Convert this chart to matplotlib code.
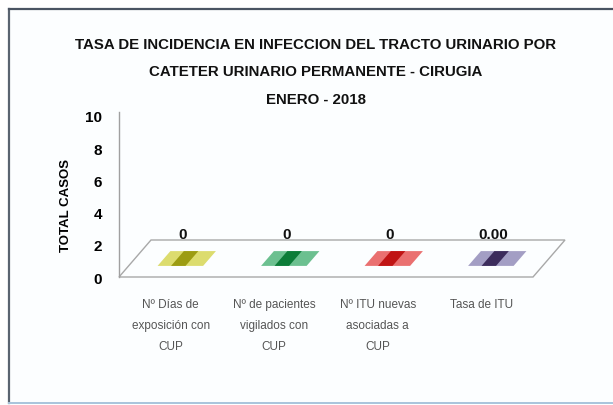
import matplotlib
matplotlib.use("Agg")
import matplotlib.pyplot as plt
from matplotlib.patches import Polygon, Rectangle
from matplotlib.lines import Line2D
from matplotlib.transforms import IdentityTransform

plt.rcParams["font.family"] = ["Liberation Sans", "DejaVu Sans"]

# ----------------------------------------------------------------------
# data
# ----------------------------------------------------------------------
title_lines = [
    "TASA DE INCIDENCIA EN INFECCION DEL TRACTO URINARIO POR",
    "CATETER URINARIO PERMANENTE - CIRUGIA",
    "ENERO - 2018",
]
categories = [
    "Nº Días de\nexposición con\nCUP",
    "Nº de pacientes\nvigilados con\nCUP",
    "Nº ITU nuevas\nasociadas a\nCUP",
    "Tasa de ITU",
]
values = [0, 0, 0, 0.0]
value_labels = ["0", "0", "0", "0.00"]
bar_light = ["#dcdc6e", "#6cc090", "#ea7070", "#a39ec4"]
bar_dark = ["#9c9c12", "#0c7c38", "#c01414", "#3c2c5c"]
yticks = [0, 2, 4, 6, 8, 10]

W, H = 613, 406
DX, DY = 32, 37  # depth of the pseudo-3d floor, pixels


def fx(px):
    return px / W


def fy(py):
    return 1 - py / H


fig = plt.figure(figsize=(W / 100, H / 100), dpi=100)
fig.patch.set_facecolor("white")

# chart frame
fig.add_artist(Rectangle((fx(9), fy(404)), 1 - fx(9), fy(10) - fy(404),
                         transform=fig.transFigure, facecolor="#fcfeff",
                         edgecolor="none", zorder=-5))
fig.add_artist(Line2D([fx(9), fx(9)], [fy(404), fy(10)], color="#5a6470", lw=1.6, zorder=-4))
fig.add_artist(Line2D([fx(9), 1], [fy(10), fy(10)], color="#4a5462", lw=1.6, zorder=-4))
fig.add_artist(Line2D([fx(9), 1], [fy(404), fy(404)], color="#a8c4dc", lw=1.4, zorder=-4))

for k, line in enumerate(title_lines):
    fig.text(fx(316), fy(45 + 27.5 * k), line, ha="center", va="center",
             fontsize=10.8, fontweight="bold", color="#111111")

ax = fig.add_axes([fx(119), fy(278), (533 - 119) / W, (278 - 117) / H])
ax.set_xlim(-0.5, len(categories) - 0.5)
ax.set_ylim(0, 10)
ax.patch.set_alpha(0)
for side in ["top", "right", "bottom"]:
    ax.spines[side].set_visible(False)
ax.spines["left"].set_color("#a0a0a0")
ax.spines["left"].set_linewidth(1.0)
ax.spines["left"].set_bounds(0, 10.25)

ax.set_yticks(yticks)
ax.set_yticklabels([str(t) for t in yticks], fontsize=11, fontweight="bold")
ax.tick_params(axis="y", length=0, pad=12)
ax.set_xticks(range(len(categories)))
ax.set_xticklabels(categories, fontsize=8.5, color="#555555", linespacing=2.0)
ax.tick_params(axis="x", length=0, pad=15)

ax.set_ylabel("TOTAL CASOS", fontsize=9.5, fontweight="bold")
ax.yaxis.set_label_coords((72 - 119) / 414, (278 - 205) / 161)


def proj(x, y, d):
    px, py = ax.transData.transform((x, y))
    return (px + d * DX, py + d * DY)


def face(pts, color, ec="none", lw=0.0, z=2):
    ax.add_patch(Polygon(pts, closed=True, facecolor=color, edgecolor=ec, lw=lw,
                         transform=IdentityTransform(), clip_on=False, zorder=z))


# floor
x_lo, x_hi = -0.5, len(categories) - 0.5
face([proj(x_lo, 0, 0), proj(x_hi, 0, 0), proj(x_hi, 0, 1), proj(x_lo, 0, 1)],
     "none", ec="#a8a8a8", lw=1.0, z=1)

# bars (flat boxes, value sets the height)
hw, d0, d1 = 0.22, 0.3, 0.7
for i, (v, lc, dc) in enumerate(zip(values, bar_light, bar_dark)):
    if v > 0:
        face([proj(i - hw, 0, d0), proj(i + hw, 0, d0), proj(i + hw, v, d0), proj(i - hw, v, d0)], lc)
        face([proj(i + hw, 0, d0), proj(i + hw, 0, d1), proj(i + hw, v, d1), proj(i + hw, v, d0)], dc)
    face([proj(i - hw, v, d0), proj(i + hw, v, d0), proj(i + hw, v, d1), proj(i - hw, v, d1)], lc, z=3)
    face([proj(i - 0.09, v, d0), proj(i + 0.05, v, d0), proj(i + 0.05, v, d1), proj(i - 0.09, v, d1)],
         dc, z=4)

for i, (v, lbl) in enumerate(zip(values, value_labels)):
    ax.annotate(lbl, xy=(i, v), xytext=(12, 43), textcoords="offset pixels",
                ha="center", va="center", fontsize=11, fontweight="bold", color="#111111")

fig.savefig("out.png", dpi=100)
